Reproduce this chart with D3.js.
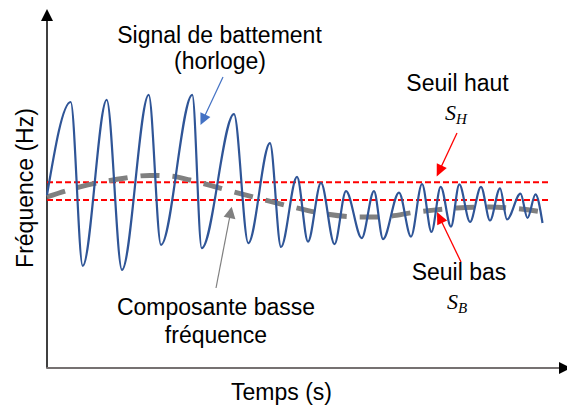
<!DOCTYPE html>
<html><head><meta charset="utf-8">
<script src="https://cdn.jsdelivr.net/npm/d3@7"></script>
<style>html,body{margin:0;padding:0;background:#fff;} svg{display:block;}</style>
</head><body>
<svg id="chart" width="567" height="405"></svg>
<script>
// ---- data (arbitrary units: time 0-100, frequency 0-100) ----
const signalTime = [0, 4.56, 6.87, 11.48, 14.42, 19.56, 21.92, 27.94, 29.75, 35.96, 38.71, 42.88, 45.0, 48.08, 50.19, 52.69, 55.29, 57.5, 60.52, 62.88, 64.62, 67.69, 70.0, 72.12, 73.94, 75.71, 77.69, 79.29, 81.35, 83.46, 85.19, 87.12, 88.46, 91.06, 92.4, 93.94, 95.29];
const signalFreq = [48.3, 74.3, 28.5, 74.9, 27.4, 76.3, 34.4, 76.3, 33.5, 70.9, 34.9, 62.8, 33.8, 53.4, 35.3, 51.7, 34.6, 49.4, 36.3, 49.4, 36.0, 49.0, 36.7, 51.4, 38.0, 50.6, 39.5, 51.3, 40.8, 50.6, 41.2, 50.2, 41.5, 48.7, 41.9, 48.5, 40.5];
const lowTime = [0, 6.35, 13.46, 19.81, 23.65, 27.5, 34.62, 40.38, 46.35, 52.5, 59.81, 64.04, 71.15, 78.85, 85.19, 89.04, 96.54];
const lowFreq = [47.8, 50.6, 52.7, 53.8, 53.6, 52.5, 49.7, 47.5, 45.3, 43.3, 42.2, 42.2, 43.6, 44.7, 45.0, 44.7, 43.3];
const thresholdNames = ["S_H", "S_B"];
const thresholdValues = [51.9, 46.9];
const thresholdEnd = 96.5;
const xLabel = "Temps (s)";
const yLabel = "Fréquence (Hz)";

// ---- layout ----
const svg = d3.select("#chart");
const W = 567, H = 405;
const x = d3.scaleLinear().domain([0, 100]).range([47, 567]);
const y = d3.scaleLinear().domain([0, 100]).range([368, 10]);
const FONT = "'Liberation Sans', Arial, sans-serif";
const MATH = "'Liberation Serif', 'Times New Roman', serif";

function arrow(x1, y1, x2, y2, color, L, Wd, lw) {
  const dx = x2 - x1, dy = y2 - y1, len = Math.hypot(dx, dy);
  const ux = dx / len, uy = dy / len;
  const bx = x2 - ux * L, by = y2 - uy * L;
  svg.append("line").attr("x1", x1).attr("y1", y1).attr("x2", bx + ux).attr("y2", by + uy)
    .attr("stroke", color).attr("stroke-width", lw);
  svg.append("polygon")
    .attr("points", [[x2, y2], [bx - uy * Wd, by + ux * Wd], [bx + uy * Wd, by - ux * Wd]].map(p => p.join(",")).join(" "))
    .attr("fill", color);
}

// axes
svg.append("line").attr("x1", x(0)).attr("x2", x(0)).attr("y1", y(0)).attr("y2", 20)
  .attr("stroke", "#000").attr("stroke-width", 1.5);
svg.append("polygon").attr("points", `${x(0)},9 ${x(0)-6},21 ${x(0)+6},21`).attr("fill", "#000");
svg.append("line").attr("x1", x(0) - 0.75).attr("x2", 560).attr("y1", y(0)).attr("y2", y(0))
  .attr("stroke", "#767171").attr("stroke-width", 2);
svg.append("polygon").attr("points", `571,${y(0)} 559,${y(0)-6} 559,${y(0)+6}`).attr("fill", "#000");

// thresholds
svg.selectAll("line.th").data(thresholdValues).join("line").attr("class", "th")
  .attr("x1", x(0)).attr("x2", x(thresholdEnd))
  .attr("y1", d => y(d)).attr("y2", d => y(d))
  .attr("stroke", "#FF0000").attr("stroke-width", 2).attr("stroke-dasharray", "6,3");

// low-frequency component
const lowData = lowTime.map((t, i) => [t, lowFreq[i]]);
svg.append("path").datum(lowData)
  .attr("d", d3.line().x(d => x(d[0])).y(d => y(d[1])).curve(d3.curveMonotoneX))
  .attr("fill", "none").attr("stroke", "#808080").attr("stroke-width", 5)
  .attr("stroke-dasharray", "19,13");

// beat signal
const sigData = signalTime.map((t, i) => [t, signalFreq[i]]);
svg.append("path").datum(sigData)
  .attr("d", d3.line().x(d => x(d[0])).y(d => y(d[1])).curve(d3.curveMonotoneX))
  .attr("fill", "none").attr("stroke", "#2F5597").attr("stroke-width", 2.2);

// annotations
arrow(223, 77, 200.5, 125, "#4472C4", 11.5, 5.5, 1.2);
arrow(216, 288, 231.7, 206.7, "#808080", 11.5, 6, 1.2);
arrow(457, 133, 436.7, 176.5, "#FF0000", 12, 5.5, 1.3);
arrow(461, 262, 437, 212, "#FF0000", 12, 5.5, 1.3);

function text(str, tx, ty, size, anchor) {
  return svg.append("text").attr("x", tx).attr("y", ty).attr("text-anchor", anchor || "middle")
    .attr("font-family", FONT).attr("font-size", size).attr("fill", "#000").text(str);
}
text("Signal de battement", 219.5, 42.5, 23);
text("(horloge)", 220, 68.5, 23);
text("Composante basse", 216, 315, 23);
text("fréquence", 216, 343, 23);
text("Seuil haut", 457.5, 90.5, 23);
text("Seuil bas", 459, 280, 23);
text(xLabel, 281.5, 400, 23);
svg.append("text").attr("transform", "translate(33.3,188) rotate(-90)")
  .attr("text-anchor", "middle").attr("font-family", FONT).attr("font-size", 23).text(yLabel);

function mathLabel(sub, cx, by) {
  const t = svg.append("text").attr("x", cx).attr("y", by).attr("text-anchor", "middle")
    .attr("font-family", MATH).attr("font-style", "italic").attr("font-size", 22);
  t.append("tspan").text("S");
  t.append("tspan").attr("font-size", 15).attr("dy", 4).text(sub);
}
mathLabel(thresholdNames[0].split("_")[1], 456, 120);
mathLabel(thresholdNames[1].split("_")[1], 457, 308.5);
</script>
</body></html>
